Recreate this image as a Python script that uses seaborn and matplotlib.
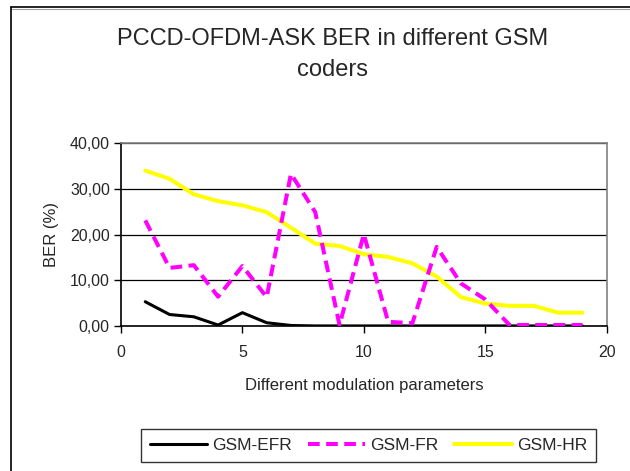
import matplotlib
matplotlib.use("Agg")
import matplotlib.pyplot as plt
import seaborn as sns
import pandas as pd
from matplotlib.lines import Line2D
from matplotlib.ticker import FuncFormatter, MultipleLocator

x = list(range(1, 20))
efr = [5.3, 2.5, 2.0, 0.2, 2.9, 0.7, 0.1, 0.0, 0.0, 0.0, 0.0, 0.0, 0.0, 0.0, 0.0, 0.0, 0.0, 0.0, 0.0]
fr = [23.1, 12.7, 13.3, 6.4, 13.1, 6.3, 33.3, 24.9, 0.2, 20.1, 0.9, 0.6, 17.3, 9.3, 5.8, 0.2, 0.2, 0.2, 0.2]
hr = [34.0, 32.2, 28.8, 27.3, 26.4, 24.9, 21.5, 18.0, 17.5, 15.7, 15.1, 13.7, 10.8, 6.3, 4.9, 4.4, 4.4, 2.9, 2.9]
names = ["GSM-EFR", "GSM-FR", "GSM-HR"]
title_lines = ["PCCD-OFDM-ASK BER in different GSM", "coders"]
xlabel = "Different modulation parameters"
ylabel = "BER (%)"

sns.set_theme(style="white")
plt.rcParams['font.family'] = ['Liberation Sans', 'DejaVu Sans']

df = pd.DataFrame({"x": x * 3,
                   "BER": efr + fr + hr,
                   "series": [names[0]] * 19 + [names[1]] * 19 + [names[2]] * 19})

fig = plt.figure(figsize=(6.30, 4.71), dpi=100)
ax = fig.add_axes([0.192, 0.308, 0.771, 0.388])

palette = {names[0]: "black", names[1]: "#ff00ff", names[2]: "#ffff00"}
widths = {names[0]: 2.2, names[1]: 2.9, names[2]: 2.9}
dash = (0, (2.9, 1.6))
for name in names:
    sub = df[df.series == name]
    sns.lineplot(data=sub, x="x", y="BER", ax=ax, color=palette[name],
                 lw=widths[name], linestyle=dash if name == names[1] else "-",
                 legend=False, zorder=3 if name != names[2] else 2)

ax.set_xlim(0, 20)
ax.set_ylim(0, 40)
ax.xaxis.set_major_locator(MultipleLocator(5))
ax.yaxis.set_major_locator(MultipleLocator(10))
ax.yaxis.set_major_formatter(FuncFormatter(lambda v, p: f"{v:.2f}".replace(".", ",")))
ax.tick_params(axis="both", direction="out", length=5, width=1, color="black",
               labelsize=11.5, bottom=True, left=True)
ax.tick_params(axis="x", pad=9)
ax.tick_params(axis="y", pad=3)
ax.grid(axis="y", color="black", lw=0.9)
ax.set_axisbelow(True)
for s in ["top", "right"]:
    ax.spines[s].set_color("#808080")
    ax.spines[s].set_linewidth(1.2)
for s in ["left", "bottom"]:
    ax.spines[s].set_color("black")
    ax.spines[s].set_linewidth(1.2)
ax.set_xlabel(xlabel, fontsize=12, labelpad=13)
ax.set_ylabel(ylabel, fontsize=12, labelpad=8)

fig.text(333 / 630, 1 - 45 / 471, title_lines[0], ha="center", va="baseline", fontsize=17)
fig.text(333 / 630, 1 - 75.5 / 471, title_lines[1], ha="center", va="baseline", fontsize=17)

handles = [Line2D([], [], color="black", lw=2.2),
           Line2D([], [], color="#ff00ff", lw=2.9, linestyle=dash),
           Line2D([], [], color="#ffff00", lw=2.9)]
leg = fig.legend(handles, names, loc="center", bbox_to_anchor=(368.5 / 630, 1 - 445.5 / 471), ncol=3,
                 frameon=True, fancybox=False, edgecolor="black", fontsize=12.5,
                 handlelength=3.3, handletextpad=0.3, columnspacing=0.9,
                 borderpad=0.5, borderaxespad=0)
leg.get_frame().set_linewidth(1.0)

# outer chart frame
fig.add_artist(Line2D([11 / 630, 1], [1 - 6.5 / 471, 1 - 6.5 / 471], color="black", lw=1.2, transform=fig.transFigure))
fig.add_artist(Line2D([12 / 630, 1], [1 - 8.5 / 471, 1 - 8.5 / 471], color="#a0a0a0", lw=0.8, transform=fig.transFigure))
fig.add_artist(Line2D([11 / 630, 11 / 630], [0, 1 - 6.5 / 471], color="black", lw=1.2, transform=fig.transFigure))

fig.savefig("out.png", dpi=100)
